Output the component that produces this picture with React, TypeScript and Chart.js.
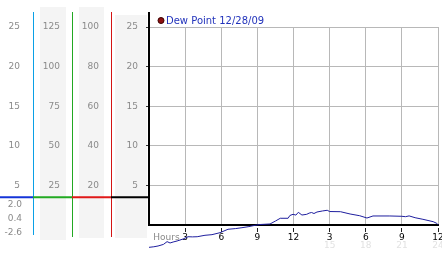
import React, { useEffect, useRef } from 'react';
import { Chart, registerables } from 'chart.js';

Chart.register(...registerables);

// ---- data ----
const seriesLabel = 'Dew Point 12/28/09';
const hours = [
  0, 0.4, 0.75, 1.2, 1.5, 1.75, 2.0, 2.33, 2.83, 3.24, 3.6, 4.0, 4.65, 5.23, 5.9, 6.56, 7.2, 7.72,
  8.3, 8.8, 9.2, 10.05, 10.5, 10.9, 11.55, 11.7, 11.96, 12.2, 12.4, 12.7, 13.1, 13.3, 13.5, 13.7,
  13.95, 14.4, 14.8, 15.0, 15.9, 16.7, 17.5, 18.1, 18.6, 20.0, 21.0, 21.3, 21.6, 22.1, 22.75, 23.6,
  23.9, 24.0,
];
const dewPoint = [
  -2.82, -2.75, -2.65, -2.45, -2.1, -2.27, -2.15, -2.02, -1.77, -1.48, -1.5, -1.48, -1.3, -1.22,
  -0.97, -0.54, -0.45, -0.34, -0.2, -0.04, 0.06, 0.13, 0.5, 0.85, 0.85, 1.2, 1.35, 1.25, 1.6, 1.26,
  1.35, 1.5, 1.58, 1.45, 1.64, 1.77, 1.86, 1.7, 1.68, 1.39, 1.17, 0.88, 1.14, 1.14, 1.1, 1.05, 1.15,
  0.92, 0.72, 0.42, 0.21, 0.05,
];

const hourTicks = [3, 6, 9, 12, 15, 18, 21, 24];
const hourTickLabels = ['3', '6', '9', '12', '3', '6', '9', '12'];
const hourAxisTitle = 'Hours';
const hourTitleAt = 1.45;
const clockTicks24 = [15, 18, 21, 24];
const clockLabels24 = ['15', '18', '21', '24'];

const colAMax = 25;
const colAStep = 5;
const colAExtraLabels = ['2.0', '0.4', '-2.6'];
const colBMax = 125;
const colBStep = 25;
const colCMax = 100;
const colCStep = 20;
const colDMax = 25;
const colDStep = 5;
const separatorValue = 3.5;

// ---- styles ----
const FONT = 'DejaVu Sans';
const tickFont = { family: FONT, size: 9 };
const LABEL_GRAY = '#8a8a8a';
const GRID = '#b8b8b8';
const CLEAR = 'rgba(0,0,0,0)';

const leftAxis = (max: number, step: number, weight: number, width: number, pad: number) => ({
  type: 'linear',
  position: 'left',
  min: 0,
  max,
  weight,
  grid: { display: false, drawTicks: false },
  border: { display: false },
  ticks: {
    stepSize: step,
    padding: pad,
    color: LABEL_GRAY,
    font: tickFont,
    callback: (v: number) => (v === 0 ? '' : String(v)),
  },
  afterFit: (s: any) => {
    s.width = width;
    s.paddingTop = 0;
    s.paddingBottom = 0;
  },
});

const panelPlugin = {
  id: 'panelDecor',
  beforeDraw(chart: any) {
    const ctx = chart.ctx;
    const { yA, yB, yC, yD } = chart.scales;
    const area = chart.chartArea;
    ctx.save();
    // column backgrounds
    ctx.fillStyle = '#f4f4f4';
    ctx.fillRect(yB.left + 7, area.top - 20, yB.right - yB.left - 13, area.bottom - area.top + 35);
    ctx.fillRect(yC.left + 7, area.top - 20, yC.right - yC.left - 14, area.bottom - area.top + 33);
    ctx.fillRect(yD.left + 4, area.top - 12, yD.right - yD.left - 6, area.bottom - area.top + 25);
    // coloured column lines
    const vline = (x: number, color: string, y0: number, y1: number) => {
      ctx.fillStyle = color;
      ctx.fillRect(x, y0, 1, y1 - y0);
    };
    vline(yA.right, '#0aa0e6', area.top - 15, area.bottom + 10);
    vline(yB.right, '#22a822', area.top - 15, area.bottom + 12);
    vline(yC.right, '#d41414', area.top - 15, area.bottom + 12);
    // horizontal separator
    const sy = yD.getPixelForValue(separatorValue);
    const seg = (x0: number, x1: number, color: string) => {
      ctx.strokeStyle = color;
      ctx.lineWidth = 2;
      ctx.beginPath();
      ctx.moveTo(x0, sy);
      ctx.lineTo(x1, sy);
      ctx.stroke();
    };
    seg(0, yA.right, '#1434d8');
    seg(yA.right, yB.right, '#22aa22');
    seg(yB.right, yC.right, '#e01818');
    seg(yC.right, yD.right, '#000000');
    // extra labels in column A
    ctx.fillStyle = LABEL_GRAY;
    ctx.font = `9px "${FONT}"`;
    ctx.textAlign = 'right';
    ctx.textBaseline = 'middle';
    colAExtraLabels.forEach((t, i) => ctx.fillText(t, yA.right - 11, sy + 7 + i * 14));
    ctx.restore();
  },
  afterDraw(chart: any) {
    const ctx = chart.ctx;
    const { yD } = chart.scales;
    const area = chart.chartArea;
    ctx.save();
    // main vertical axis line
    ctx.strokeStyle = '#000';
    ctx.lineWidth = 2;
    ctx.beginPath();
    ctx.moveTo(yD.right, area.top - 15);
    ctx.lineTo(yD.right, area.bottom);
    ctx.stroke();
    // legend
    const cy = area.top - 6.5;
    ctx.beginPath();
    ctx.arc(area.left + 12, cy, 3, 0, Math.PI * 2);
    ctx.fillStyle = '#8e1010';
    ctx.fill();
    ctx.strokeStyle = '#3a0000';
    ctx.lineWidth = 1;
    ctx.stroke();
    ctx.fillStyle = '#2233bb';
    ctx.font = `10px "${FONT}"`;
    ctx.textAlign = 'left';
    ctx.textBaseline = 'middle';
    ctx.fillText(chart.data.datasets[0].label, area.left + 17, cy + 0.5);
    ctx.restore();
  },
};

export default function App() {
  const ref = useRef<HTMLCanvasElement>(null);
  useEffect(() => {
    if (!ref.current) return;
    const chart = new Chart(ref.current, {
      type: 'line',
      data: {
        datasets: [
          {
            label: seriesLabel,
            data: hours.map((h, i) => ({ x: h, y: dewPoint[i] })),
            borderColor: '#1e1e9e',
            borderWidth: 1,
            pointRadius: 0,
            tension: 0,
            clip: false,
            xAxisID: 'x',
            yAxisID: 'yD',
          } as any,
        ],
      },
      options: {
        animation: false,
        responsive: false,
        devicePixelRatio: 1,
        events: [],
        layout: { padding: { left: 0, top: 27, right: 4, bottom: 0 } },
        plugins: { legend: { display: false }, tooltip: { enabled: false } },
        scales: {
          x: {
            type: 'linear',
            position: 'bottom',
            min: 0,
            max: 24,
            weight: 0,
            afterBuildTicks: (s: any) => {
              s.ticks = [{ value: hourTitleAt }, ...hourTicks.map((v) => ({ value: v }))];
            },
            grid: {
              color: (c: any) => (c.tick && c.tick.value === hourTitleAt ? CLEAR : GRID),
              tickColor: (c: any) => (c.tick && c.tick.value === hourTitleAt ? CLEAR : '#222'),
              tickLength: 8,
              tickBorderDash: [0, 2, 4, 20],
            },
            border: { display: true, color: '#000', width: 2 },
            ticks: {
              autoSkip: false,
              maxRotation: 0,
              minRotation: 0,
              padding: -1,
              font: tickFont,
              color: (c: any) => (c.tick && c.tick.value === hourTitleAt ? LABEL_GRAY : '#000'),
              callback: (_v: any, i: number) => (i === 0 ? hourAxisTitle : hourTickLabels[i - 1]),
            },
            afterFit: (s: any) => {
              s.height = 16;
              s.paddingLeft = 0;
              s.paddingRight = 0;
            },
          },
          xFaint: {
            type: 'linear',
            position: 'bottom',
            min: 0,
            max: 24,
            weight: 1,
            afterBuildTicks: (s: any) => {
              s.ticks = clockTicks24.map((v) => ({ value: v }));
            },
            grid: { display: false, drawTicks: false },
            border: { display: false },
            ticks: {
              autoSkip: false,
              maxRotation: 0,
              minRotation: 0,
              padding: -1,
              font: tickFont,
              color: '#e2e2e2',
              callback: (_v: any, i: number) => clockLabels24[i],
            },
            afterFit: (s: any) => {
              s.height = 12;
              s.paddingLeft = 0;
              s.paddingRight = 0;
            },
          },
          yA: leftAxis(colAMax, colAStep, 4, 33, 13),
          yB: leftAxis(colBMax, colBStep, 3, 39, 12),
          yC: leftAxis(colCMax, colCStep, 2, 39, 12),
          yD: {
            type: 'linear',
            position: 'left',
            min: 0,
            max: colDMax,
            weight: 1,
            grid: {
              color: (c: any) => (c.tick && c.tick.value === 0 ? CLEAR : GRID),
              tickColor: (c: any) => (c.tick && c.tick.value === 0 ? CLEAR : '#333'),
              tickLength: 3,
            },
            border: { display: false },
            ticks: {
              stepSize: colDStep,
              padding: 8,
              color: LABEL_GRAY,
              font: tickFont,
              callback: (v: number) => (v === 0 ? '' : String(v)),
            },
            afterFit: (s: any) => {
              s.width = 38;
              s.paddingTop = 0;
              s.paddingBottom = 0;
            },
          },
        },
      } as any,
      plugins: [panelPlugin],
    });
    return () => chart.destroy();
  }, []);

  return (
    <div style={{ position: 'fixed', left: 0, top: 0, width: 442, height: 253, background: '#fff' }}>
      <canvas ref={ref} width={442} height={253} />
    </div>
  );
}
